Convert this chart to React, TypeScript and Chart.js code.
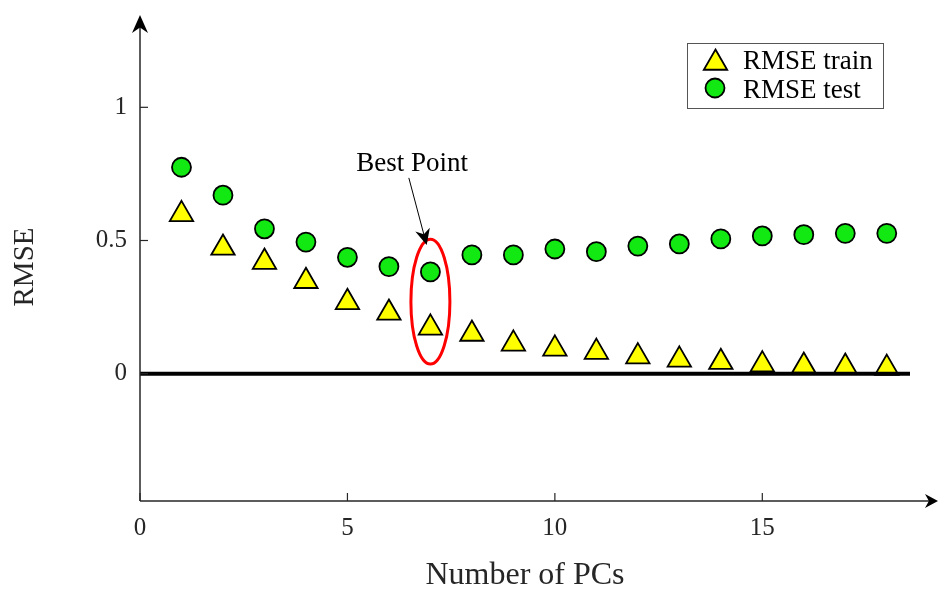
import React, { useEffect, useRef } from 'react';
import { Chart, registerables } from 'chart.js';

Chart.register(...registerables);

// ---------- data ----------
const pcs = [1, 2, 3, 4, 5, 6, 7, 8, 9, 10, 11, 12, 13, 14, 15, 16, 17, 18];
const rmseTrain = [0.598, 0.472, 0.419, 0.347, 0.268, 0.228, 0.172, 0.149, 0.112, 0.093, 0.081, 0.064, 0.052, 0.043, 0.034, 0.029, 0.025, 0.021];
const rmseTest = [0.775, 0.670, 0.544, 0.494, 0.437, 0.402, 0.382, 0.446, 0.446, 0.468, 0.458, 0.479, 0.487, 0.506, 0.517, 0.522, 0.527, 0.527];
const xTickValues = [0, 5, 10, 15];
const yTickValues = [0, 0.5, 1];
const seriesLabels = ['RMSE train', 'RMSE test'];
const xAxisTitle = 'Number of PCs';
const yAxisTitle = 'RMSE';
const annotationText = 'Best Point';
const bestPC = 7;

const FONT = "'Liberation Serif', 'Times New Roman', serif";
const AXIS_COLOR = '#262626';
const TRAIN_FILL = '#ffff00';
const TEST_FILL = '#12e812';

function drawArrowHead(ctx: CanvasRenderingContext2D, fromX: number, fromY: number, tipX: number, tipY: number, len: number, half: number) {
  const dx = tipX - fromX, dy = tipY - fromY;
  const d = Math.hypot(dx, dy) || 1;
  const ux = dx / d, uy = dy / d;
  const px = -uy, py = ux;
  const bx = tipX - ux * len, by = tipY - uy * len;
  const nx = tipX - ux * len * 0.7, ny = tipY - uy * len * 0.7;
  ctx.beginPath();
  ctx.moveTo(tipX, tipY);
  ctx.lineTo(bx + px * half, by + py * half);
  ctx.lineTo(nx, ny);
  ctx.lineTo(bx - px * half, by - py * half);
  ctx.closePath();
  ctx.fill();
}

function drawTriangle(ctx: CanvasRenderingContext2D, x: number, y: number, r: number) {
  ctx.beginPath();
  for (let i = 0; i < 3; i++) {
    const a = (i * 2 * Math.PI) / 3;
    const px = x + Math.sin(a) * r;
    const py = y - Math.cos(a) * r;
    if (i === 0) ctx.moveTo(px, py); else ctx.lineTo(px, py);
  }
  ctx.closePath();
}

const decorPlugin = {
  id: 'decor',
  afterDatasetsDraw(chart: any) {
    const ctx: CanvasRenderingContext2D = chart.ctx;
    const xs = chart.scales.x;
    const ys = chart.scales.y;
    const { left, right, bottom } = chart.chartArea;
    const W = chart.width;
    ctx.save();

    // zero line
    const y0 = ys.getPixelForValue(0);
    ctx.strokeStyle = '#000';
    ctx.lineWidth = 4;
    ctx.beginPath();
    ctx.moveTo(left, y0);
    ctx.lineTo(right, y0);
    ctx.stroke();

    // axes
    ctx.strokeStyle = AXIS_COLOR;
    ctx.fillStyle = '#000';
    ctx.lineWidth = 1.5;
    ctx.beginPath();
    ctx.moveTo(left, bottom);
    ctx.lineTo(left, 22);
    ctx.stroke();
    drawArrowHead(ctx, left, bottom, left, 15, 18, 8);
    ctx.beginPath();
    ctx.moveTo(left, bottom);
    ctx.lineTo(W - 6, bottom);
    ctx.stroke();
    drawArrowHead(ctx, left, bottom, W - 1, bottom, 13, 7);

    // inward ticks
    ctx.lineWidth = 1.2;
    yTickValues.forEach((v) => {
      const py = ys.getPixelForValue(v);
      ctx.beginPath();
      ctx.moveTo(left, py);
      ctx.lineTo(left + 8, py);
      ctx.stroke();
    });
    xTickValues.forEach((v) => {
      const px = xs.getPixelForValue(v);
      ctx.beginPath();
      ctx.moveTo(px, bottom);
      ctx.lineTo(px, bottom - 8);
      ctx.stroke();
    });

    // ellipse around the best point
    const ex = xs.getPixelForValue(bestPC);
    const eyTop = ys.getPixelForValue(0.505);
    const eyBot = ys.getPixelForValue(0.036);
    ctx.strokeStyle = '#ff0000';
    ctx.lineWidth = 3;
    ctx.beginPath();
    ctx.ellipse(ex, (eyTop + eyBot) / 2, 19.5, (eyBot - eyTop) / 2, 0, 0, Math.PI * 2);
    ctx.stroke();

    // annotation text + arrow
    ctx.fillStyle = '#000';
    ctx.font = `27px ${FONT}`;
    ctx.textAlign = 'center';
    ctx.textBaseline = 'middle';
    ctx.fillText(annotationText, xs.getPixelForValue(6.56), ys.getPixelForValue(0.786));
    const ax0 = xs.getPixelForValue(6.48), ay0 = ys.getPixelForValue(0.735);
    const ax1 = xs.getPixelForValue(6.91), ay1 = ys.getPixelForValue(0.483);
    ctx.strokeStyle = '#000';
    ctx.lineWidth = 1;
    ctx.beginPath();
    ctx.moveTo(ax0, ay0);
    ctx.lineTo(ax1 - (ax1 - ax0) * 0.12, ay1 - (ay1 - ay0) * 0.12);
    ctx.stroke();
    drawArrowHead(ctx, ax0, ay0, ax1, ay1, 16, 7.5);

    // legend
    const bx = 687, by = 43, bw = 196, bh = 65;
    ctx.fillStyle = '#fff';
    ctx.fillRect(bx, by, bw, bh);
    ctx.strokeStyle = '#555';
    ctx.lineWidth = 1;
    ctx.strokeRect(bx + 0.5, by + 0.5, bw, bh);
    ctx.lineWidth = 1.8;
    ctx.strokeStyle = '#000';
    drawTriangle(ctx, 715.5, 63, 13.5);
    ctx.fillStyle = TRAIN_FILL;
    ctx.fill();
    ctx.stroke();
    ctx.beginPath();
    ctx.arc(715, 88, 9.5, 0, Math.PI * 2);
    ctx.fillStyle = TEST_FILL;
    ctx.fill();
    ctx.stroke();
    ctx.fillStyle = '#000';
    ctx.font = `27px ${FONT}`;
    ctx.textAlign = 'left';
    ctx.fillText(seriesLabels[0], 743, 62);
    ctx.fillText(seriesLabels[1], 743, 91);

    ctx.restore();
  },
};

export default function App() {
  const canvasRef = useRef<HTMLCanvasElement | null>(null);

  useEffect(() => {
    document.body.style.margin = '0';
    const canvas = canvasRef.current;
    if (!canvas) return;
    const chart = new Chart(canvas, {
      type: 'scatter',
      data: {
        datasets: [
          {
            label: seriesLabels[0],
            data: pcs.map((x, i) => ({ x, y: rmseTrain[i] })),
            pointStyle: 'triangle',
            pointRadius: 13.5,
            pointBackgroundColor: TRAIN_FILL,
            pointBorderColor: '#000',
            pointBorderWidth: 1.8,
            showLine: false,
          },
          {
            label: seriesLabels[1],
            data: pcs.map((x, i) => ({ x, y: rmseTest[i] })),
            pointStyle: 'circle',
            pointRadius: 9.5,
            pointBackgroundColor: TEST_FILL,
            pointBorderColor: '#000',
            pointBorderWidth: 1.8,
            showLine: false,
          },
        ],
      },
      options: {
        responsive: false,
        animation: false,
        events: [],
        devicePixelRatio: 1,
        layout: { padding: { left: 0, right: 29, top: 33, bottom: 0 } },
        plugins: {
          legend: { display: false },
          tooltip: { enabled: false },
        },
        scales: {
          x: {
            type: 'linear',
            min: 0,
            max: 18.56,
            grid: { display: false, drawTicks: false },
            border: { display: false },
            afterBuildTicks: (scale: any) => {
              scale.ticks = xTickValues.map((v) => ({ value: v }));
            },
            afterFit: (scale: any) => {
              scale.height = 91;
            },
            ticks: {
              padding: 12,
              color: AXIS_COLOR,
              font: { family: FONT, size: 25 },
              maxRotation: 0,
              callback: (v: any) => String(v),
            },
            title: {
              display: true,
              text: xAxisTitle,
              color: AXIS_COLOR,
              font: { family: FONT, size: 32, lineHeight: 1 },
              padding: { top: 0, bottom: 0 },
            },
          },
          y: {
            type: 'linear',
            min: -0.478,
            max: 1.279,
            grid: { display: false, drawTicks: false },
            border: { display: false },
            afterBuildTicks: (scale: any) => {
              scale.ticks = yTickValues.map((v) => ({ value: v }));
            },
            afterFit: (scale: any) => {
              scale.width = 140;
            },
            ticks: {
              padding: 13,
              color: AXIS_COLOR,
              font: { family: FONT, size: 25 },
              callback: (v: any) => String(v),
            },
            title: {
              display: true,
              text: yAxisTitle,
              color: AXIS_COLOR,
              font: { family: FONT, size: 29, lineHeight: 1 },
              padding: { top: 11, bottom: 0 },
            },
          },
        },
      },
      plugins: [decorPlugin],
    });
    return () => chart.destroy();
  }, []);

  return (
    <div style={{ width: 939, height: 592, background: '#fff' }}>
      <canvas ref={canvasRef} width={939} height={592} style={{ display: 'block' }} />
    </div>
  );
}
